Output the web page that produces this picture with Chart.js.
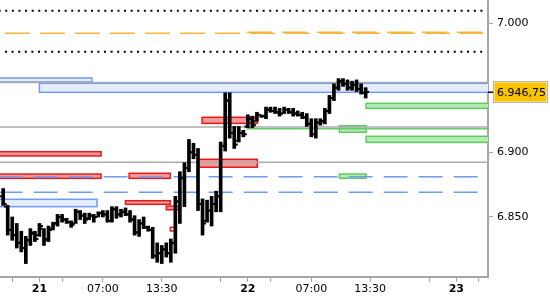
<!DOCTYPE html>
<html>
<head>
<meta charset="utf-8">
<script src="https://cdn.jsdelivr.net/npm/chart.js@4.4.1/dist/chart.umd.min.js"></script>
<style>
  html, body { margin: 0; padding: 0; background: #fff; }
  canvas { display: block; }
</style>
</head>
<body>
<canvas id="chart" width="550" height="300"></canvas>
<script>
// 30 min bars, x = bar number (0 = the 21st 00:00, the 17:00-18:00 break has no bars)
const barIndex = Array.from({ length: 81 }, (_, i) => i - 8);

const opens = [
  6866, 6858, 6840, 6836, 6830, 6826, 6832, 6837,
  6836, 6841, 6833, 6841, 6845, 6850, 6848, 6846, 6845, 6854,
  6851, 6849, 6851, 6850, 6853, 6852, 6847, 6856, 6852, 6854,
  6852, 6848, 6838, 6845, 6842, 6840, 6820, 6822, 6825, 6822,
  6830, 6862, 6880, 6888, 6900, 6898, 6860, 6847, 6855, 6860,
  6866, 6905, 6940, 6915, 6909, 6915, 6920, 6926, 6924, 6929,
  6928, 6933, 6932, 6931, 6930, 6933, 6931, 6930, 6929, 6927,
  6922, 6914, 6923, 6924, 6932, 6942, 6950, 6955, 6953, 6950,
  6952, 6949, 6946
];
const highs = [
  6872, 6859, 6850, 6845, 6839, 6835, 6841, 6839,
  6845, 6841, 6843, 6846, 6852, 6852, 6849, 6847, 6856, 6855,
  6853, 6853, 6852, 6854, 6855, 6855, 6858, 6858, 6856, 6857,
  6855, 6851, 6848, 6850, 6843, 6842, 6830, 6828, 6830, 6833,
  6866, 6885, 6892, 6910, 6907, 6903, 6864, 6863, 6866, 6870,
  6908, 6946, 6946, 6920, 6920, 6917, 6929, 6928, 6931, 6929,
  6935, 6935, 6935, 6934, 6935, 6934, 6934, 6932, 6931, 6930,
  6926, 6926, 6926, 6934, 6944, 6953, 6957, 6957, 6956, 6955,
  6956, 6953, 6950
];
const lows = [
  6859, 6836, 6832, 6826, 6823, 6814, 6828, 6831,
  6835, 6828, 6831, 6840, 6843, 6846, 6845, 6842, 6845, 6848,
  6845, 6848, 6846, 6850, 6850, 6846, 6846, 6849, 6850, 6851,
  6846, 6836, 6835, 6841, 6839, 6818, 6815, 6814, 6819, 6815,
  6822, 6845, 6858, 6885, 6895, 6855, 6836, 6846, 6843, 6854,
  6854, 6901, 6911, 6903, 6908, 6912, 6919, 6919, 6924, 6927,
  6926, 6931, 6930, 6928, 6930, 6930, 6928, 6928, 6926, 6920,
  6912, 6911, 6921, 6922, 6930, 6940, 6948, 6951, 6948, 6948,
  6947, 6945, 6942
];
const closes = [
  6860, 6840, 6836, 6830, 6826, 6832, 6838, 6833,
  6843, 6832, 6840, 6845, 6850, 6848, 6846, 6844, 6854, 6851,
  6848, 6851, 6850, 6853, 6852, 6847, 6856, 6852, 6854, 6852,
  6848, 6838, 6845, 6842, 6840, 6820, 6822, 6825, 6822, 6830,
  6862, 6880, 6888, 6900, 6898, 6860, 6845, 6855, 6860, 6866,
  6905, 6940, 6915, 6906, 6915, 6914, 6926, 6921, 6929, 6928,
  6933, 6932, 6931, 6930, 6933, 6931, 6930, 6929, 6927, 6922,
  6914, 6923, 6924, 6932, 6942, 6950, 6955, 6953, 6950, 6952,
  6949, 6946, 6946.75
];

// x axis ticks (bar numbers) and their labels
const xTickValues = [-6, 0, 5, 14, 27, 40, 46, 51, 60, 73, 86, 92, 97];
const xTickLabels = ['', '21', '', '07:00', '13:30', '', '22', '', '07:00', '13:30', '', '23', ''];
const dayLabels = ['21', '22', '23'];
const yTickValues = [6850, 6900, 7000];

// zones: [from bar, to bar, upper price, lower price]
const blueZones = [
  [-9, 11.6, 6957.5, 6954.4],
  [0, 100, 6953.4, 6946.4],
  [-9, 12.7, 6863.7, 6858.0]
];
const redZones = [
  [-9, 13.6, 6900.5, 6897.2],
  [-9, 13.6, 6883.2, 6879.9],
  [19.8, 28.9, 6883.8, 6879.9],
  [19.0, 28.9, 6862.6, 6859.8],
  [28.0, 31.1, 6858.4, 6855.6],
  [35.9, 48.1, 6927.1, 6922.4],
  [35.0, 48.1, 6894.6, 6888.5]
];
const redOutlineZones = [
  [28.9, 30.2, 6842.0, 6839.2]
];
const greenZones = [
  [72.1, 100, 6937.9, 6934.0],
  [66.2, 72.1, 6920.6, 6915.5],
  [72.1, 100, 6912.4, 6907.7],
  [66.2, 72.1, 6883.2, 6880.0]
];

// levels: [from bar, to bar, price]
const dottedLevels = [[-9, 98, 7009.5], [-7.6, 98, 6977.8]];
const orangeLevels = [[-7.6, 98, 6992.0], [45.8, 98, 6992.8]];
const greyLevels = [[-9, 100, 6954.1], [-9, 100, 6919.5], [-9, 100, 6892.3]];
const greenLevels = [[45.8, 100, 6918.3]];
const blueLevels = [[-9, 100, 6881.1], [-9, 97.3, 6869.1]];

const FONT = 'DejaVu Sans';

function levelSets(list, style) {
  return list.map(([a, b, v]) => Object.assign({
    type: 'line',
    data: [{ x: a, y: v }, { x: b, y: v }],
    pointRadius: 0,
    fill: false,
    order: 1
  }, style));
}

const zonePlugin = {
  id: 'zones',
  beforeDatasetsDraw(chart) {
    const { ctx, chartArea: a, scales: { x, y } } = chart;
    ctx.save();
    ctx.beginPath();
    ctx.rect(a.left, a.top, a.width, a.height);
    ctx.clip();
    const draw = (list, fill, stroke) => list.forEach(([x0, x1, top, bot]) => {
      const l = x.getPixelForValue(x0), r = x.getPixelForValue(x1);
      const t = y.getPixelForValue(top), b = y.getPixelForValue(bot);
      if (fill) { ctx.fillStyle = fill; ctx.fillRect(l, t, r - l, b - t); }
      ctx.strokeStyle = stroke;
      ctx.lineWidth = 1.5;
      ctx.strokeRect(l, t, r - l, b - t);
    });
    draw(blueZones, '#e5edfd', '#6f9cf0');
    draw(redZones, '#f59a9a', '#e81818');
    draw(redOutlineZones, null, '#e81818');
    draw(greenZones, '#b5eab5', '#5ccc5c');
    ctx.restore();
  }
};

const ohlcTicks = {
  id: 'ohlcTicks',
  afterDatasetsDraw(chart) {
    const { ctx, scales: { x, y } } = chart;
    ctx.save();
    ctx.fillStyle = '#000';
    barIndex.forEach((b, i) => {
      const px = x.getPixelForValue(b);
      ctx.fillRect(px - 3.5, y.getPixelForValue(opens[i]) - 1, 2, 2);
      ctx.fillRect(px + 1.5, y.getPixelForValue(closes[i]) - 1, 2, 2);
    });
    ctx.restore();
  }
};

const priceLabel = {
  id: 'priceLabel',
  afterDraw(chart) {
    const { ctx, chartArea: a, scales: { y } } = chart;
    const last = closes[closes.length - 1];
    const py = Math.round(y.getPixelForValue(last));
    ctx.save();
    ctx.fillStyle = '#000';
    ctx.fillRect(a.right, py - 0.5, 6, 1.5);
    ctx.fillStyle = '#f7c300';
    ctx.fillRect(494, py - 10, 53, 20);
    ctx.strokeStyle = '#b4b4b4';
    ctx.lineWidth = 1;
    ctx.strokeRect(493.5, py - 10.5, 54, 21);
    ctx.strokeStyle = '#ffe066';
    ctx.strokeRect(494.5, py - 9.5, 52, 19);
    ctx.fillStyle = '#000';
    ctx.font = '11px "' + FONT + '"';
    ctx.textBaseline = 'middle';
    ctx.fillText(last.toLocaleString('de-DE', { minimumFractionDigits: 2 }), 497, py + 1);
    ctx.restore();
  }
};

const datasets = [
  {
    type: 'bar',
    data: barIndex.map((b, i) => ({ x: b, y: [lows[i], highs[i]] })),
    backgroundColor: '#000',
    borderWidth: 0,
    barThickness: 3,
    grouped: false,
    order: 0
  },
  ...levelSets(greyLevels, { borderColor: '#ababab', borderWidth: 1.5 }),
  ...levelSets(greenLevels, { borderColor: '#66cc66', borderWidth: 1.5 }),
  ...levelSets(blueLevels, { borderColor: '#6f9cf0', borderWidth: 1.5, borderDash: [24, 11] }),
  ...levelSets(orangeLevels, { borderColor: '#f6b63c', borderWidth: 1.5, borderDash: [25, 10] }),
  ...levelSets(dottedLevels, { borderColor: '#000', borderWidth: 2, borderDash: [2, 4.6] })
];

const config = {
  type: 'bar',
  data: { datasets },
  options: {
    responsive: false,
    animation: false,
    events: [],
    layout: { padding: 0 },
    plugins: {
      legend: { display: false },
      tooltip: { enabled: false }
    },
    scales: {
      x: {
        type: 'linear',
        min: -8.7,
        max: 99,
        offset: false,
        afterBuildTicks: s => { s.ticks = xTickValues.map(v => ({ value: v })); },
        afterFit: s => { s.height = 23; s.paddingLeft = 0; s.paddingRight = 0; },
        grid: { drawOnChartArea: false, offset: false, tickLength: 5, color: '#a6a6a6' },
        border: { color: '#a6a6a6', width: 2 },
        ticks: {
          autoSkip: false,
          maxRotation: 0,
          padding: 1,
          color: '#000',
          font: ctx => ({ family: FONT, size: 11, weight: dayLabels.includes(ctx.tick && ctx.tick.label) ? 'bold' : 'normal' }),
          callback: v => xTickLabels[xTickValues.indexOf(v)] || ''
        }
      },
      y: {
        position: 'right',
        min: 6803.6,
        max: 7017.8,
        afterBuildTicks: s => { s.ticks = yTickValues.map(v => ({ value: v })); },
        afterFit: s => { s.width = 62; s.paddingTop = 0; s.paddingBottom = 0; },
        grid: { drawOnChartArea: false, tickLength: 5, color: '#a6a6a6' },
        border: { color: '#a6a6a6', width: 2 },
        ticks: {
          padding: 4,
          color: '#000',
          font: { family: FONT, size: 11 },
          callback: v => v.toLocaleString('de-DE')
        }
      }
    }
  },
  plugins: [zonePlugin, ohlcTicks, priceLabel]
};

const chart = new Chart(document.getElementById('chart').getContext('2d'), config);
</script>
</body>
</html>
